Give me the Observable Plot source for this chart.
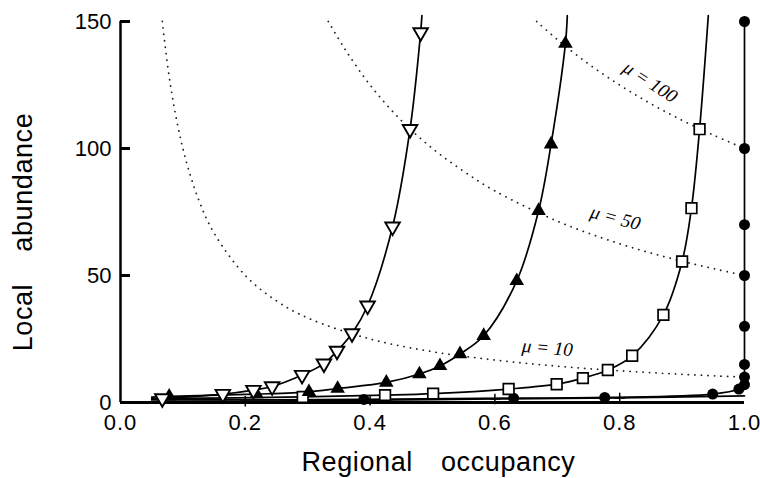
<!DOCTYPE html>
<html><head><meta charset="utf-8">
<script src="https://cdn.jsdelivr.net/npm/d3@7"></script>
<script src="https://cdn.jsdelivr.net/npm/@observablehq/plot@0.6"></script>
<style>body{margin:0;background:#fff}#chart svg{display:block}</style>
</head><body><div id="chart"></div>
<script>
// ---- data ----
const xTicks = [0, 0.2, 0.4, 0.6, 0.8, 1.0];
const yTicks = [0, 50, 100, 150];
const xTitle = "Regional occupancy";
const yTitle = "Local abundance";

// open down-triangles
const triDownX = [0.067, 0.164, 0.213, 0.243, 0.291, 0.326, 0.347, 0.371, 0.396, 0.436, 0.464, 0.481];
const triDownY = [1.6, 3.3, 4.9, 6.3, 10.8, 15.3, 20.3, 27.2, 38.1, 69.2, 107.6, 145.7];
const triDownLineX = [0.05, 0.483];
const triDownLineY = [1.3, 152.3];

// filled up-triangles
const triUpX = [0.078, 0.218, 0.302, 0.348, 0.426, 0.479, 0.512, 0.544, 0.582, 0.635, 0.670, 0.690, 0.713];
const triUpY = [2.4, 3.3, 4.2, 5.5, 7.9, 11.2, 14.4, 19.1, 26.3, 47.9, 75.5, 101.7, 141.3];
const triUpLineX = [0.05, 0.716];
const triUpLineY = [2.1, 152.3];

// open squares
const squareX = [0.292, 0.424, 0.501, 0.622, 0.699, 0.741, 0.781, 0.820, 0.870, 0.900, 0.915, 0.928];
const squareY = [2.2, 2.9, 3.5, 5.3, 7.2, 9.6, 12.8, 18.4, 34.5, 55.5, 76.5, 107.6];
const squareLineX = [0.05, 0.942];
const squareLineY = [1.5, 152.3];

// filled circles
const circleX = [0.39, 0.630, 0.776, 0.949, 0.991, 1, 1, 1, 1, 1, 1, 1, 1];
const circleY = [1.2, 1.7, 2.0, 3.3, 5.3, 7, 10, 15, 30, 50, 70, 100, 150];
const circleLineX = [0.05];
const circleLineY = [1.0];

// plus signs
const plusX = [0.2, 0.4, 0.6, 0.8];
const plusY = [0.5, 0.9, 1.4, 1.8];
const plusLineX = [0.05, 1.0];
const plusLineY = [0.3, 2.6];

// iso-lines of mean abundance mu
const mu10X = [0.067, 0.08, 0.1, 0.125, 0.15, 0.2, 0.25, 0.3, 0.4, 0.5, 0.6, 0.7, 0.8, 0.9, 1.0];
const mu10Y = [150, 125, 100, 80, 66.7, 50, 40, 33.3, 25, 20, 16.7, 14.3, 12.5, 11.1, 10];
const mu50X = [0.333, 0.36, 0.4, 0.45, 0.5, 0.55, 0.6, 0.7, 0.8, 0.9, 1.0];
const mu50Y = [150, 139, 125, 111, 100, 91, 83.3, 71.4, 62.5, 55.6, 50];
const mu100X = [0.667, 0.7, 0.75, 0.8, 0.85, 0.9, 0.95, 1.0];
const mu100Y = [150, 142.9, 133.3, 125, 117.6, 111.1, 105.3, 100];

const muLabelText = ["\u03bc = 100", "\u03bc = 50", "\u03bc = 10"];
const muLabelX = [0.849, 0.793, 0.684];
const muLabelY = [126.2, 72.7, 21.5];
const muLabelAngle = [33, 15, 5];

// ---- build tables ----
const pts = (xs, ys, s) => xs.map((x, i) => ({x, y: ys[i], s}));
const sortX = a => a.slice().sort((p, q) => p.x - q.x || p.y - q.y);

const triDown = pts(triDownX, triDownY, "tdown");
const triUp = pts(triUpX, triUpY, "tup");
const squares = pts(squareX, squareY, "sq");
const circles = pts(circleX, circleY, "ci");
const pluses = pts(plusX, plusY, "pl");

const seriesLines = [
  ...sortX([...triDown, ...pts(triDownLineX, triDownLineY, "tdown")]),
  ...sortX([...triUp, ...pts(triUpLineX, triUpLineY, "tup")]),
  ...sortX([...squares, ...pts(squareLineX, squareLineY, "sq")]),
  ...sortX([...circles, ...pts(circleLineX, circleLineY, "ci")]),
  ...sortX([...pluses, ...pts(plusLineX, plusLineY, "pl")])
];

const muLines = [
  ...pts(mu10X, mu10Y, "10"),
  ...pts(mu50X, mu50Y, "50"),
  ...pts(mu100X, mu100Y, "100")
];
const muLabels = muLabelText.map((t, i) => ({t, x: muLabelX[i], y: muLabelY[i], a: muLabelAngle[i]}));

const chart = Plot.plot({
  width: 760,
  height: 478,
  marginLeft: 120,
  marginRight: 16,
  marginTop: 21,
  marginBottom: 76,
  x: {domain: [0, 1]},
  y: {domain: [0, 150]},
  style: {fontFamily: "'Liberation Sans', Arial, Helvetica, sans-serif", fontSize: "22px", color: "black", background: "white"},
  marks: [
    Plot.line(muLines, {x: "x", y: "y", z: "s", curve: "catmull-rom", stroke: "#222", strokeWidth: 1.8, strokeDasharray: "0.1,6.4", strokeLinecap: "round"}),
    Plot.line(seriesLines, {x: "x", y: "y", z: "s", curve: "catmull-rom", stroke: "black", strokeWidth: 1.7}),
    Plot.ruleX([0], {strokeWidth: 2.5}),
    Plot.ruleY([0], {strokeWidth: 3}),
    Plot.axisX(xTicks, {tickSize: 0, tickPadding: 12, tickFormat: d3.format(".1f"), fontSize: 22, label: null}),
    Plot.axisY(yTicks, {tickSize: 0, tickPadding: 9, fontSize: 22, label: null}),
    Plot.axisY(yTicks, {tickSize: -10, strokeWidth: 3, tickFormat: () => "", label: null}),
    Plot.dot(pluses, {x: "x", y: "y", symbol: "plus", r: 3.5, stroke: "black", strokeWidth: 1.5}),
    Plot.dot(circles, {x: "x", y: "y", symbol: "circle", r: 5.5, fill: "black", stroke: "none"}),
    Plot.dot(squares, {x: "x", y: "y", symbol: "square", r: 6, fill: "white", stroke: "black", strokeWidth: 1.7}),
    Plot.dot(triUp, {x: "x", y: "y", symbol: "triangle", r: 5.4, fill: "black", stroke: "none"}),
    Plot.dot(triDown, {x: "x", y: "y", symbol: "triangle", rotate: 180, r: 5.4, fill: "white", stroke: "black", strokeWidth: 1.9}),
    Plot.text(muLabels, {x: "x", y: "y", text: "t", rotate: "a", fontSize: 19, fontStyle: "italic", fontFamily: "'Liberation Serif', 'DejaVu Serif', serif", fill: "black"}),
    Plot.text([xTitle], {text: d => d, frameAnchor: "bottom", textAnchor: "middle", lineAnchor: "bottom", dx: 6, dy: 68, fontSize: 27}),
    Plot.text([yTitle], {text: d => d, frameAnchor: "left", textAnchor: "middle", lineAnchor: "bottom", rotate: -90, dx: -89, dy: 20, fontSize: 27})
  ]
});
document.getElementById("chart").appendChild(chart);

// typographic spacing like the original
d3.select(chart).selectAll("text").each(function() {
  const t = this.textContent;
  if (t === xTitle) d3.select(this).attr("word-spacing", "20px").attr("letter-spacing", "0.6px");
  if (t === yTitle) d3.select(this).attr("word-spacing", "24px").attr("letter-spacing", "0.6px");
  if (/^\d\.\d$/.test(t)) d3.select(this).attr("letter-spacing", "1px");
});
</script>
</body></html>
